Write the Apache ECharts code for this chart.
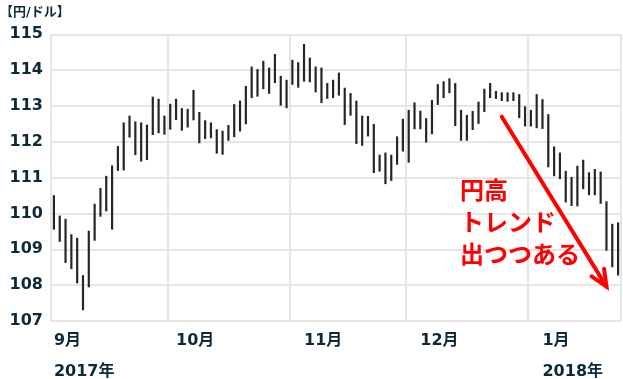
<!DOCTYPE html>
<html>
<head>
<meta charset="utf-8">
<script src="https://cdn.jsdelivr.net/npm/echarts@6/dist/echarts.min.js"></script>
<style>
html,body{margin:0;padding:0;background:#fff;}
#chart{width:623px;height:379px;}
</style>
</head>
<body>
<div id="chart"></div>
<script>
// ---- data ----
const monthNames = ['9月', '10月', '11月', '12月', '1月'];
const monthBarCounts = [20, 21, 20, 21, 16];
const yearNotes = ['2017年', '', '', '', '2018年'];
const yMin = 107, yMax = 115, yStep = 1;
const unitLabel = '【円/ドル】';
const noteText = ['円高', 'トレンド', '出つつある'];

const highs = [
  110.51,109.94,109.85,109.42,109.32,108.28,109.52,110.27,110.71,111.05,
  111.34,111.88,112.54,112.73,112.57,112.54,112.48,113.26,113.20,112.73,
  113.06,113.20,112.94,112.92,113.45,112.83,112.60,112.54,112.35,112.31,
  112.47,113.05,113.15,113.56,114.10,114.03,114.26,114.07,114.45,113.84,
  113.73,114.29,114.22,114.73,114.35,114.10,114.07,113.64,113.73,113.93,
  113.51,113.36,113.15,112.73,112.72,112.50,111.64,111.70,111.64,112.15,
  112.64,112.89,113.10,112.87,112.66,113.17,113.61,113.69,113.77,113.64,
  112.89,112.75,112.86,113.12,113.48,113.64,113.42,113.38,113.38,113.38,
  113.33,112.99,112.89,113.33,113.19,112.77,111.87,111.70,111.19,111.02,
  111.33,111.50,111.15,111.24,111.17,110.34,109.71,109.75
];
const lows = [
  109.55,109.21,108.62,108.45,108.05,107.30,107.94,109.24,109.91,110.06,
  109.55,111.19,111.20,112.12,111.63,111.45,111.49,112.19,112.24,112.20,
  112.34,112.61,112.31,112.40,112.60,111.96,112.08,112.10,111.67,111.64,
  112.03,112.13,112.29,112.49,113.22,113.26,113.47,113.34,113.64,113.01,
  112.94,113.59,113.51,113.68,113.66,113.38,113.08,113.20,113.22,113.29,
  112.47,112.73,111.94,111.89,112.15,111.13,111.17,110.82,110.91,111.36,
  111.73,111.42,112.35,112.35,111.98,112.21,113.03,113.22,113.36,112.44,
  112.03,112.03,112.33,112.50,112.83,113.22,113.20,113.14,113.12,113.14,
  112.66,112.43,112.43,112.38,112.36,111.29,111.04,110.96,110.31,110.21,
  110.20,110.68,110.51,110.51,110.27,108.96,108.50,108.27
];

// ---- derived structures ----
const categories = [];
const monthStartIndex = [];
monthNames.forEach((m, mi) => {
  monthStartIndex.push(categories.length);
  for (let k = 0; k < monthBarCounts[mi]; k++) {
    categories.push(m + '-' + (k + 1));
  }
});
const seriesData = highs.map((h, i) => [i, h, lows[i]]);

// label placement offsets (bars after month start) - style only
const labelShift = [0, 1, 2, 2, 2];
const labelIndexToMonth = {};
monthStartIndex.forEach((s, mi) => { labelIndexToMonth[s + labelShift[mi]] = mi; });

const FONT = '"DejaVu Sans", "Noto Sans CJK JP", sans-serif';
const TXT = '#0c2a3a';

const chart = echarts.init(document.getElementById('chart'), null, {renderer: 'canvas'});
chart.setOption({
  animation: false,
  backgroundColor: '#ffffff',
  title: {
    text: unitLabel, left: 0, top: 6, padding: 0,
    textStyle: {fontFamily: FONT, fontSize: 13, fontWeight: 'bold', color: TXT}
  },
  grid: {left: 51, right: 2, top: 34.3, bottom: 58, containLabel: false, outerBoundsMode: 'none'},
  xAxis: {
    type: 'category',
    data: categories,
    boundaryGap: true,
    axisLine: {show: false},
    axisTick: {show: false},
    splitLine: {
      show: true,
      interval: (index) => monthStartIndex.indexOf(index) >= 0,
      lineStyle: {color: '#e6e6e6', width: 2}
    },
    axisLabel: {
      show: true,
      interval: (index) => labelIndexToMonth[index] !== undefined,
      formatter: (value, index) => {
        const mi = labelIndexToMonth[index];
        if (mi === undefined) return '';
        return yearNotes[mi] ? monthNames[mi] + '\n' + yearNotes[mi] : monthNames[mi];
      },
      align: 'left',
      verticalAlign: 'top',
      margin: 4,
      lineHeight: 31,
      fontFamily: FONT, fontSize: 16, fontWeight: 'bold', color: TXT
    }
  },
  yAxis: {
    type: 'value',
    min: yMin, max: yMax, interval: yStep,
    axisLine: {show: false},
    axisTick: {show: false},
    splitLine: {show: true, lineStyle: {color: '#e6e6e6', width: 2}},
    axisLabel: {margin: 8, fontFamily: FONT, fontSize: 16, fontWeight: 'bold', color: TXT}
  },
  series: [{
    type: 'custom',
    data: seriesData,
    encode: {x: 0, y: [1, 2]},
    renderItem: (params, api) => {
      const p1 = api.coord([api.value(0), api.value(1)]);
      const p2 = api.coord([api.value(0), api.value(2)]);
      return {
        type: 'line',
        shape: {x1: p1[0], y1: p1[1], x2: p2[0], y2: p2[1]},
        style: {stroke: '#262626', lineWidth: 2.2}
      };
    }
  }]
});

// annotation arrow in data space
const start = chart.convertToPixel({xAxisIndex: 0, yAxisIndex: 0}, [76.57, 112.70]);
const tip = chart.convertToPixel({xAxisIndex: 0, yAxisIndex: 0}, [95.2, 107.96]);
const ang = Math.atan2(start[1] - tip[1], start[0] - tip[0]);
const armLen = 18, armAng = 24 * Math.PI / 180;
const a1 = [tip[0] + armLen * Math.cos(ang + armAng), tip[1] + armLen * Math.sin(ang + armAng)];
const a2 = [tip[0] + armLen * Math.cos(ang - armAng), tip[1] + armLen * Math.sin(ang - armAng)];
chart.setOption({
  graphic: [
    {type: 'line', shape: {x1: start[0], y1: start[1], x2: tip[0], y2: tip[1]},
     style: {stroke: '#ff0000', lineWidth: 4, lineCap: 'round'}, z: 100},
    {type: 'polyline', shape: {points: [a1, tip, a2]},
     style: {stroke: '#ff0000', lineWidth: 4, lineCap: 'round', lineJoin: 'miter', fill: null}, z: 100},
    {type: 'text', left: 460, top: 177, z: 100,
     style: {text: noteText.join('\n'), font: 'bold 24px ' + FONT, lineHeight: 32, fill: '#ff0000'}}
  ]
});
</script>
</body>
</html>
